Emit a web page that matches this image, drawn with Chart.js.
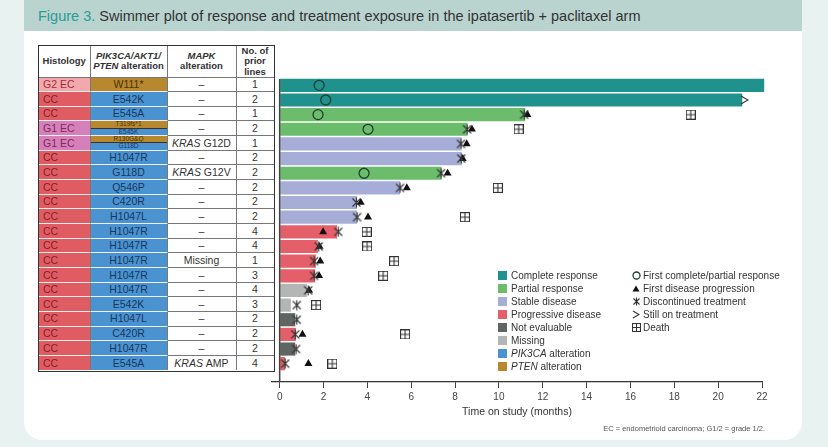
<!DOCTYPE html>
<html>
<head>
<meta charset="utf-8">
<script src="https://cdn.jsdelivr.net/npm/chart.js@4.4.0/dist/chart.umd.min.js"></script>
<style>
body{margin:0;width:828px;height:447px;background:#e8f2f1;font-family:"Liberation Sans",Arial,sans-serif;overflow:hidden;position:relative;color:#333}
#panel{position:absolute;left:24px;top:0;width:778px;height:440px;background:#fff;border-radius:0 0 18px 18px}
#head{position:absolute;left:24px;top:0;width:778px;height:31px;background:#b9d4cf}
#title{position:absolute;left:38px;top:8px;font-size:14.5px;color:#333;white-space:nowrap}
#title span{color:#2a9b96}
#wrap{position:absolute;left:0;top:0;width:828px;height:447px;z-index:1}
#tbl{position:absolute;left:38px;top:45px;width:234.5px;height:324.5px;border:1.5px solid #333;z-index:2;background:#fff}
.c{position:absolute;box-sizing:border-box;border-right:1px solid #777;border-bottom:1px solid #777;font-size:10.5px;display:flex;align-items:center;justify-content:center;line-height:1;overflow:hidden;white-space:nowrap}
.h{font-weight:bold;font-size:9.5px;line-height:10.5px;text-align:center;flex-direction:column}
.sp{font-size:6.5px;height:50%;width:100%;display:flex;align-items:center;justify-content:center}
#legend{position:absolute;left:0;top:0;z-index:2}
.li{position:absolute;font-size:10px;white-space:nowrap;display:flex;align-items:center;height:12px}
.sw{width:9px;height:9px;margin-right:4px}
#foot{position:absolute;right:63px;top:424px;font-size:7.5px;color:#555;z-index:2}
</style>
</head>
<body>
<div id="panel"></div>
<div id="head"></div>
<div id="title"><span>Figure 3.</span> Swimmer plot of response and treatment exposure in the ipatasertib + paclitaxel arm</div>
<div id="wrap"><canvas id="swim"></canvas></div>
<div id="tbl"></div>
<div id="legend"></div>
<div id="foot">EC = endometrioid carcinoma; G1/2 = grade 1/2.</div>
<script>
const histology = ["G2 EC","CC","CC","G1 EC","G1 EC","CC","CC","CC","CC","CC","CC","CC","CC","CC","CC","CC","CC","CC","CC","CC"];
const alteration = ["W111*","E542K","E545A",["T319fs*1","E545K"],["R130G&Q","G118D"],"H1047R","G118D","Q546P","C420R","H1047L","H1047R","H1047R","H1047R","H1047R","H1047R","E542K","H1047L","C420R","H1047R","E545A"];
const alterationGene = ["PTEN","PIK3CA","PIK3CA",["PTEN","PIK3CA"],["PTEN","PIK3CA"],"PIK3CA","PIK3CA","PIK3CA","PIK3CA","PIK3CA","PIK3CA","PIK3CA","PIK3CA","PIK3CA","PIK3CA","PIK3CA","PIK3CA","PIK3CA","PIK3CA","PIK3CA"];
const mapk = ["–","–","–","–","KRAS G12D","–","KRAS G12V","–","–","–","–","–","Missing","–","–","–","–","–","–","KRAS AMP"];
const priorLines = [1,2,1,2,1,2,2,2,2,2,4,4,1,3,4,3,2,2,2,4];

const response = ["CR","CR","PR","PR","SD","SD","PR","SD","SD","SD","PD","PD","PD","PD","MS","MS","NE","PD","NE","PD"];
const duration = [22.1,21.1,11.2,8.57,8.3,8.3,7.39,5.49,3.53,3.53,2.62,1.74,1.65,1.62,1.24,0.51,0.71,0.74,0.71,0.25];
const firstResponse = [1.8,2.1,1.75,4.03,null,null,3.85,null,null,null,null,null,null,null,null,null,null,null,null,null];
const firstProgression = [null,null,11.3,8.77,8.53,8.35,7.66,5.8,3.7,4.03,1.98,1.82,1.85,1.8,1.34,null,null,1.04,null,1.31];
const discontinued = [null,null,11.15,8.55,8.27,8.28,7.36,5.49,3.5,3.53,2.67,1.78,1.57,1.57,1.3,0.78,0.78,0.71,0.75,0.25];
const stillOn = [null,21.2,null,null,null,null,null,null,null,null,null,null,null,null,null,null,null,null,null,null];
const death = [null,null,18.75,10.9,null,null,null,9.95,null,8.45,3.97,3.99,5.22,4.72,null,1.66,null,5.72,null,2.4];

const xTicks = [0,2,4,6,8,10,12,14,16,18,20,22];

const responseLabels = {CR:"Complete response",PR:"Partial response",SD:"Stable disease",PD:"Progressive disease",NE:"Not evaluable",MS:"Missing"};
const responseColors = {CR:"#20928e",PR:"#6cbd6b",SD:"#a6aed8",PD:"#e45f69",NE:"#5f6563",MS:"#b4b6b5"};
const geneColors = {PIK3CA:"#4a93d0",PTEN:"#b8882e"};
const geneText = {PIK3CA:"#17375f",PTEN:"#4a3208"};
const histColors = {"CC":"#e05c63","G2 EC":"#f3a9ab","G1 EC":"#d77fba"};
const histText = {"CC":"#8c1d28","G2 EC":"#a0303a","G1 EC":"#7d2a5c"};

// table
const colX = [39.5,91,168,237,274];
const top0 = 46.5, headBottom = 78, rowH = 14.65;
const tbl = document.getElementById("tbl");
function cell(c,y,h,html,cls,style){
  const d = document.createElement("div");
  d.className = "c "+(cls||"");
  d.style.left = (colX[c]-colX[0])+"px";
  d.style.top = (y-top0)+"px";
  d.style.width = (colX[c+1]-colX[c])+"px";
  d.style.height = h+"px";
  if(c==3) d.style.borderRight="none";
  d.innerHTML = html;
  Object.assign(d.style,style||{});
  tbl.appendChild(d);
  return d;
}
const hh = headBottom-top0;
cell(0,top0,hh,"Histology","h");
cell(1,top0,hh,"<i>PIK3CA/AKT1/</i><span><i>PTEN</i> alteration</span>","h");
cell(2,top0,hh,"<i>MAPK</i><span>alteration</span>","h");
cell(3,top0,hh,"No. of<span>prior</span><span>lines</span>","h");
histology.forEach((hname,i)=>{
  const y = headBottom+i*rowH;
  const last = i==histology.length-1;
  cell(0,y,rowH,hname,"",{background:histColors[hname],color:histText[hname],justifyContent:"flex-start",paddingLeft:"4px",borderBottom:last?"none":"1px solid #eee"});
  const alt = alteration[i];
  if(Array.isArray(alt)){
    cell(1,y,rowH,alt.map((a,k)=>'<div class="sp" style="background:'+geneColors[alterationGene[i][k]]+';color:'+geneText[alterationGene[i][k]]+(k==0?';border-bottom:1px solid #333':'')+'">'+a+'</div>').join(""),"",{flexDirection:"column",borderBottom:last?"none":"1px solid #eee"});
  } else {
    cell(1,y,rowH,alt,"",{background:geneColors[alterationGene[i]],color:geneText[alterationGene[i]],borderBottom:last?"none":"1px solid #eee"});
  }
  const m = mapk[i].startsWith("KRAS") ? "<i>KRAS</i>&nbsp;"+mapk[i].slice(5) : mapk[i];
  cell(2,y,rowH,m,"",last?{borderBottom:"none"}:{});
  cell(3,y,rowH,priorLines[i],"",last?{borderBottom:"none"}:{});
});

// marker icons
function icon(w,h,draw){
  const c = document.createElement("canvas");
  c.width = w; c.height = h;
  const g = c.getContext("2d");
  g.strokeStyle = "#333"; g.fillStyle = "#111"; g.lineWidth = 1.1;
  draw(g,w,h);
  return c;
}
const drawAsterisk = (g,w,h)=>{g.beginPath();g.moveTo(1.5,1.5);g.lineTo(w-1.5,h-1.5);g.moveTo(w-1.5,1.5);g.lineTo(1.5,h-1.5);g.moveTo(w/2,0.5);g.lineTo(w/2,h-0.5);g.stroke();};
const drawDeath = (g,w,h)=>{g.strokeRect(0.5,0.5,w-1,h-1);g.beginPath();g.moveTo(w/2,0.5);g.lineTo(w/2,h-0.5);g.moveTo(0.5,h/2);g.lineTo(w-0.5,h/2);g.stroke();};
const drawChevron = (g,w,h)=>{g.lineWidth=1.2;g.beginPath();g.moveTo(1,1);g.lineTo(w-1,h/2);g.lineTo(1,h-1);g.stroke();};
const drawCircle = (g,w,h)=>{g.strokeStyle="#1f3f36";g.lineWidth=1.3;g.beginPath();g.arc(w/2,h/2,w/2-1,0,Math.PI*2);g.stroke();};
const drawTriangle = (g,w,h)=>{g.beginPath();g.moveTo(w/2,0.5);g.lineTo(w-0.5,h-0.5);g.lineTo(0.5,h-0.5);g.closePath();g.fill();};
const asteriskIcon = icon(11,11,drawAsterisk);
const deathIcon = icon(10,10,drawDeath);
const chevronIcon = icon(9,10,drawChevron);

function pts(arr){
  return arr.map((v,i)=>v==null?null:{x:v,y:i}).filter(p=>p);
}

const zeroLine = {
  id:"zeroLine",
  afterDatasetsDraw(chart){
    const {ctx,chartArea:a,scales:{x}} = chart;
    const px = x.getPixelForValue(0);
    ctx.save();
    ctx.strokeStyle = "#444"; ctx.lineWidth = 1.5;
    ctx.beginPath(); ctx.moveTo(px,a.top+1); ctx.lineTo(px,a.bottom); ctx.stroke();
    ctx.restore();
  }
};

new Chart(document.getElementById("swim"),{
  type:"bar",
  data:{datasets:[
    {type:"scatter",data:pts(firstResponse),pointStyle:"circle",pointRadius:5,pointBorderWidth:1.3,pointBorderColor:"#1f3f36",pointBackgroundColor:"rgba(0,0,0,0)",order:1},
    {type:"scatter",data:pts(discontinued),pointStyle:asteriskIcon,order:1},
    {type:"scatter",data:pts(firstProgression),pointStyle:"triangle",pointRadius:4.6,pointBorderWidth:0,pointBackgroundColor:"#111",order:1},
    {type:"scatter",data:pts(stillOn),pointStyle:chevronIcon,order:1},
    {type:"scatter",data:pts(death),pointStyle:deathIcon,order:1},
    {type:"bar",data:pts(duration),backgroundColor:response.map(r=>responseColors[r]),barPercentage:0.9,categoryPercentage:1,order:2,clip:false}
  ]},
  options:{
    indexAxis:"y",
    responsive:true,
    maintainAspectRatio:false,
    animation:false,
    layout:{padding:{left:272,right:66,top:78,bottom:29}},
    plugins:{legend:{display:false},tooltip:{enabled:false}},
    scales:{
      x:{
        type:"linear",min:-0.35,max:22,
        afterBuildTicks:s=>{s.ticks = xTicks.map(v=>({value:v}));},
        afterFit:s=>{s.height = 36;},
        grid:{drawOnChartArea:false,drawTicks:true,tickLength:6,color:"#444"},
        border:{display:true,color:"#333",width:1.2},
        ticks:{font:{size:10,family:"Liberation Sans"},color:"#444",padding:3,maxRotation:0},
        title:{display:true,text:"Time on study (months)",font:{size:10.5,family:"Liberation Sans"},color:"#333",padding:0}
      },
      y:{
        type:"linear",min:-0.5,max:20.25,reverse:true,display:false,offset:false,
        afterBuildTicks:s=>{s.ticks = histology.map((_,i)=>({value:i}));}
      }
    }
  },
  plugins:[zeroLine]
});

// legend
const legend = document.getElementById("legend");
const legY0 = 269, legDy = 13.1;
const leftItems = ["CR","PR","SD","PD","NE","MS"].map(k=>({color:responseColors[k],text:responseLabels[k]}))
  .concat([{color:geneColors.PIK3CA,text:"<i>PIK3CA</i>&nbsp;alteration"},{color:geneColors.PTEN,text:"<i>PTEN</i>&nbsp;alteration"}]);
leftItems.forEach((it,k)=>{
  const d = document.createElement("div");
  d.className = "li";
  d.style.left = "498px"; d.style.top = (legY0+k*legDy)+"px";
  d.innerHTML = '<div class="sw" style="background:'+it.color+'"></div>'+it.text;
  legend.appendChild(d);
});
const rightItems = [
  {draw:drawCircle,w:9,h:9,text:"First complete/partial response"},
  {draw:drawTriangle,w:8,h:7,text:"First disease progression"},
  {draw:drawAsterisk,w:9,h:9,text:"Discontinued treatment"},
  {draw:drawChevron,w:8,h:9,text:"Still on treatment"},
  {draw:drawDeath,w:9,h:9,text:"Death"}
];
rightItems.forEach((it,k)=>{
  const d = document.createElement("div");
  d.className = "li";
  d.style.left = "632px"; d.style.top = (legY0+k*legDy)+"px";
  const c = icon(it.w,it.h,it.draw);
  c.style.marginRight = (11-it.w)+"px";
  d.appendChild(c);
  d.appendChild(document.createTextNode(it.text));
  legend.appendChild(d);
});
</script>
</body>
</html>
